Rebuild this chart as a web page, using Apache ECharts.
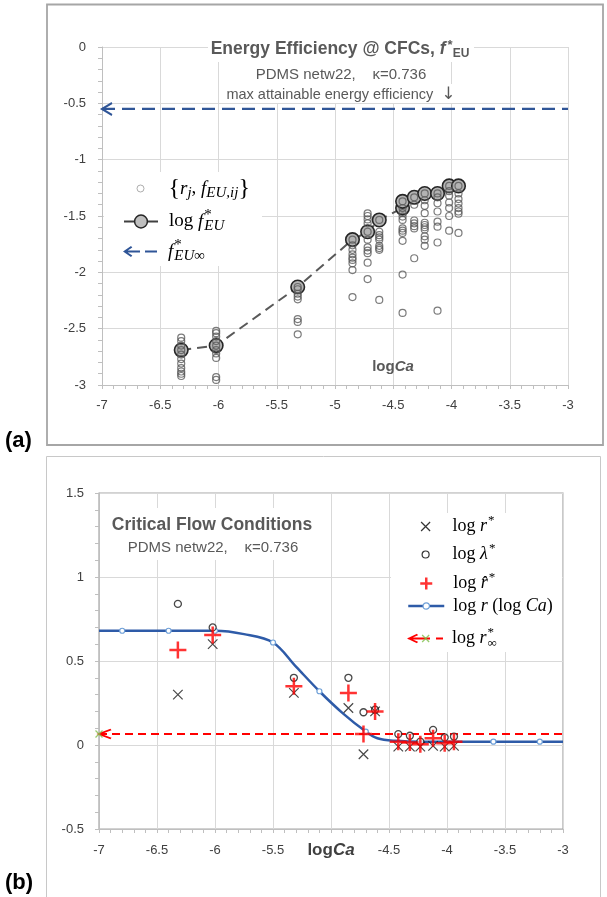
<!DOCTYPE html>
<html>
<head>
<meta charset="utf-8">
<script src="https://cdn.jsdelivr.net/npm/echarts@6.0.0/dist/echarts.min.js"></script>
<style>
html,body{margin:0;padding:0;background:#ffffff;}
#chart{width:607px;height:897px;}
</style>
</head>
<body>
<div id="chart"></div>
<script>
// ================= data =================
const logCa = [-6.32, -6.02, -5.32, -4.85, -4.72, -4.62, -4.42, -4.32, -4.23, -4.12, -4.02, -3.94];

// (a) individual {r_j, f_EU,ij} values, one list per logCa
const fEU_1 = [-2.58, -2.61, -2.65, -2.69, -2.73, -2.77, -2.81, -2.85, -2.88, -2.90, -2.92];
const fEU_2 = [-2.52, -2.54, -2.57, -2.61, -2.65, -2.69, -2.72, -2.76, -2.93, -2.955];
const fEU_3 = [-2.13, -2.15, -2.19, -2.215, -2.24, -2.415, -2.44, -2.55];
const fEU_4 = [-1.71, -1.76, -1.80, -1.84, -1.87, -1.89, -1.92, -1.98, -2.22];
const fEU_5 = [-1.476, -1.50, -1.53, -1.565, -1.64, -1.71, -1.778, -1.807, -1.83, -1.914, -2.06];
const fEU_6 = [-1.535, -1.64, -1.67, -1.69, -1.71, -1.765, -1.785, -1.80, -2.245];
const fEU_7 = [-1.37, -1.43, -1.475, -1.505, -1.535, -1.61, -1.63, -1.65, -1.72, -2.02, -2.36];
const fEU_8 = [-1.334, -1.40, -1.54, -1.565, -1.59, -1.61, -1.875];
const fEU_9 = [-1.30, -1.36, -1.41, -1.475, -1.56, -1.58, -1.60, -1.62, -1.68, -1.71, -1.765];
const fEU_10 = [-1.30, -1.334, -1.387, -1.46, -1.55, -1.595, -1.735, -2.34];
const fEU_11 = [-1.233, -1.28, -1.32, -1.38, -1.43, -1.50, -1.63];
const fEU_12 = [-1.233, -1.30, -1.35, -1.39, -1.43, -1.46, -1.48, -1.65];
const fEUcols = [fEU_1, fEU_2, fEU_3, fEU_4, fEU_5, fEU_6, fEU_7, fEU_8, fEU_9, fEU_10, fEU_11, fEU_12];

// (a) log f*_EU (large circles, dashed connector)
const logFEUx = [-6.32, -6.02, -5.32, -4.85, -4.72, -4.62, -4.42, -4.42, -4.32, -4.23, -4.12, -4.02, -3.94];
const logFEUy = [-2.69, -2.65, -2.13, -1.71, -1.64, -1.535, -1.43, -1.37, -1.334, -1.30, -1.30, -1.233, -1.233];
const fEUinf = -0.55;

// (b) critical flow conditions
const logRstar   = [0.30, 0.60, 0.31, 0.22, -0.055, 0.20, -0.01, -0.01, -0.01, -0.005, -0.01, -0.005];
const logLamStar = [0.84, 0.70, 0.40, 0.40, 0.195, 0.21, 0.065, 0.055, 0.02, 0.09, 0.045, 0.05];
const logRhat    = [0.565, 0.655, 0.35, 0.31, 0.065, 0.20, 0.02, 0.015, 0.005, 0.04, 0.01, 0.02];

// (b) log r(log Ca) curve and which points carry a marker
const curveX = [-7.0, -6.8, -6.4, -6.0, -5.75, -5.5, -5.3, -5.1, -4.9, -4.7, -4.6, -4.45, -4.2, -3.6, -3.2, -3.0];
const curveY = [0.68, 0.68, 0.68, 0.68, 0.66, 0.61, 0.465, 0.32, 0.19, 0.08, 0.04, 0.025, 0.02, 0.02, 0.02, 0.02];
const curveMark = [0, 1, 1, 1, 0, 1, 0, 1, 0, 1, 0, 0, 0, 1, 1, 0];
const logRinf = 0.065;

// axes
const xRange = [-7, -3];
const yRangeA = [-3, 0];
const yRangeB = [-0.5, 1.5];
const tickStep = 0.5;
const hiddenXLabelB = -5;

// ================= styling helpers =================
const SANS = 'Liberation Sans';
const SERIF = 'Liberation Serif';
const XPATH = 'path://M0,0L10,10M10,0L0,10';
const PLUS = 'path://M5,0L5,10M0,5L10,5';
const CHEV = 'path://M10,0L0,5L10,10';
const CLEAR = 'rgba(0,0,0,0)';
// legend icons spanning the whole icon box (symbol centred in it)
const LG_CIRCLE_A = 'path://M0,3.5M34,3.5M20.5,3.5A3.5,3.5,0,1,1,13.5,3.5A3.5,3.5,0,1,1,20.5,3.5Z';
const LG_CROSS = 'path://M0,4.5M36,4.5M13.5,0L22.5,9M22.5,0L13.5,9';
const LG_CIRCLE_B = 'path://M0,3.5M36,3.5M21.5,3.5A3.5,3.5,0,1,1,14.5,3.5A3.5,3.5,0,1,1,21.5,3.5Z';
const LG_PLUS = 'path://M0,6M36,6M18,0L18,12M12,6L24,6';
const LG_GREENX = 'path://M0,3.5M36,3.5M14.5,0L21.5,7M21.5,0L14.5,7';
const LG_ARROW_A = 'path://M0,6L8,0.5L9.3,1.9L3.2,6L9.3,10.1L8,11.5ZM1.5,5H17V7H1.5ZM22,5H34V7H22Z';
const LG_ARROW_B = 'path://M0,5L10,0.3L11,1.8L3.6,5L11,8.2L10,9.7ZM1.5,4.1H23V5.9H1.5ZM29,4.1H36V5.9H29Z';

function mathRich(size, sub, lh, gap, color) {
  return {
    gap: {fontFamily: SERIF, fontSize: size, lineHeight: lh, width: gap, color: color},
    n: {fontFamily: SERIF, fontSize: size, lineHeight: lh, color: color},
    i: {fontFamily: SERIF, fontSize: size, lineHeight: lh, fontStyle: 'italic', color: color},
    sup0: {fontFamily: SERIF, fontSize: sub, lineHeight: lh, padding: [0, 0, 12, 1], width: 0, color: color},
    sup: {fontFamily: SERIF, fontSize: sub, lineHeight: lh, padding: [0, 0, 12, 1], color: color},
    sub: {fontFamily: SERIF, fontSize: sub, lineHeight: lh, fontStyle: 'italic', padding: [10, 0, 0, 0], color: color},
    subn: {fontFamily: SERIF, fontSize: sub, lineHeight: lh, padding: [10, 0, 0, 0], color: color}
  };
}
const richA = mathRich(19, 15, 24, 6, '#000');
const richB = mathRich(18, 13, 22, 4, '#000');
const richBclear = mathRich(18, 13, 22, 4, CLEAR);

function axisCommon() {
  return {
    type: 'value', min: xRange[0], max: xRange[1], interval: tickStep,
    axisLine: {show: true, onZero: false, lineStyle: {color: '#bfbfbf', width: 1}},
    axisTick: {show: true, length: 4, lineStyle: {color: '#bfbfbf'}},
    minorTick: {show: true, splitNumber: 5, length: 4, lineStyle: {color: '#bfbfbf'}},
    splitLine: {show: true, lineStyle: {color: '#d9d9d9', width: 1}},
    minorSplitLine: {show: false},
    axisLabel: {fontFamily: SANS, fontSize: 13, color: '#404040'}
  };
}

// ================= build series data =================
const rjfData = [];
fEUcols.forEach((col, i) => col.forEach(v => rjfData.push([logCa[i], v])));
const bigData = logFEUx.map((x, i) => [x, logFEUy[i]]);
const fInfData = [
  {value: [xRange[0], fEUinf], symbol: CHEV, symbolSize: [10, 12], symbolOffset: [5, 0],
   itemStyle: {color: CLEAR, borderColor: '#2f5597', borderWidth: 2}},
  {value: [xRange[1], fEUinf], symbol: 'none'}
];
const rInfData = [
  {value: [xRange[0], logRinf], symbol: CHEV, symbolSize: [12, 9], symbolOffset: [6, 0],
   itemStyle: {color: CLEAR, borderColor: '#ff0000', borderWidth: 2}},
  {value: [xRange[1], logRinf], symbol: 'none'}
];
const curveData = curveX.map((x, i) => ({value: [x, curveY[i]], symbol: curveMark[i] ? 'circle' : 'none'}));
const rStarData = logCa.map((x, i) => [x, logRstar[i]]);
const lamData = logCa.map((x, i) => [x, logLamStar[i]]);
const rHatData = logCa.map((x, i) => [x, logRhat[i]]);

// ================= option =================
const xa = axisCommon();
const xb = axisCommon();
const GRAY = '#595959';
function lg(extra) {
  return Object.assign({padding: 0, selectedMode: false, orient: 'horizontal'}, extra);
}
const option = {
  animation: false,
  backgroundColor: '#ffffff',
  textStyle: {fontFamily: SANS},
  grid: [
    {left: 102, top: 47, width: 466, height: 338, outerBoundsMode: 'none', containLabel: false},
    {left: 99, top: 493, width: 464, height: 336, outerBoundsMode: 'none', containLabel: false,
     show: true, borderColor: '#a6a6a6', borderWidth: 1.2, backgroundColor: CLEAR}
  ],
  xAxis: [
    Object.assign(xa, {
      gridIndex: 0,
      axisLabel: Object.assign(xa.axisLabel, {margin: 14}),
      name: '{a|log}{b|Ca}', nameLocation: 'middle', nameGap: -26, nameMoveOverlap: false,
      nameTextStyle: {padding: [0, 0, 0, 116], rich: {
        a: {fontFamily: SANS, fontWeight: 'bold', fontSize: 15, color: GRAY},
        b: {fontFamily: SANS, fontWeight: 'bold', fontStyle: 'italic', fontSize: 15, color: GRAY}
      }}
    }),
    Object.assign(xb, {
      gridIndex: 1,
      axisLabel: Object.assign(xb.axisLabel, {margin: 15, formatter: v => (v === hiddenXLabelB ? '' : String(v))}),
      name: '{a|log}{b|Ca}', nameLocation: 'middle', nameGap: 13, nameMoveOverlap: false,
      nameTextStyle: {rich: {
        a: {fontFamily: SANS, fontWeight: 'bold', fontSize: 17, color: '#404040'},
        b: {fontFamily: SANS, fontWeight: 'bold', fontStyle: 'italic', fontSize: 17, color: '#404040'}
      }}
    })
  ],
  yAxis: [
    Object.assign(axisCommon(), {gridIndex: 0, min: yRangeA[0], max: yRangeA[1],
      axisLabel: {fontFamily: SANS, fontSize: 13, color: '#404040', margin: 16}}),
    Object.assign(axisCommon(), {gridIndex: 1, min: yRangeB[0], max: yRangeB[1],
      axisLabel: {fontFamily: SANS, fontSize: 13, color: '#404040', margin: 15}})
  ],
  title: [
    {text: '{t|Energy Efficiency @ CFCs, }{ti|f}{ts|*}{tsub|EU}', left: 340, top: 49,
     textAlign: 'center', textVerticalAlign: 'middle', padding: 0,
     textStyle: {rich: {
       t: {fontFamily: SANS, fontWeight: 'bold', fontSize: 17.5, lineHeight: 22, color: GRAY},
       ti: {fontFamily: SANS, fontWeight: 'bold', fontStyle: 'italic', fontSize: 17.5, lineHeight: 22, color: GRAY},
       ts: {fontFamily: SANS, fontWeight: 'bold', fontSize: 13, lineHeight: 22, padding: [0, 0, 8, 2], color: GRAY},
       tsub: {fontFamily: SANS, fontWeight: 'bold', fontSize: 12, lineHeight: 22, padding: [9, 0, 0, 0], color: GRAY}
     }}},
    {text: 'PDMS netw22,    κ=0.736', left: 341, top: 75, textAlign: 'center', textVerticalAlign: 'middle', padding: 0,
     textStyle: {fontFamily: SANS, fontWeight: 'normal', fontSize: 15, color: GRAY}},
    {text: '{m|max attainable energy efficiency  }{ar|↓}', left: 341, top: 95, textAlign: 'center', textVerticalAlign: 'middle', padding: 0,
     textStyle: {fontWeight: 'normal', rich: {
       m: {fontFamily: SANS, fontWeight: 'normal', fontSize: 14.5, lineHeight: 20, color: GRAY},
       ar: {fontFamily: 'DejaVu Sans', fontWeight: 'normal', fontSize: 17, lineHeight: 20, color: GRAY}
     }}},
    {text: 'Critical Flow Conditions', left: 212, top: 525, textAlign: 'center', textVerticalAlign: 'middle', padding: 0,
     textStyle: {fontFamily: SANS, fontWeight: 'bold', fontSize: 17.5, color: GRAY}},
    {text: 'PDMS netw22,    κ=0.736', left: 213, top: 548, textAlign: 'center', textVerticalAlign: 'middle', padding: 0,
     textStyle: {fontFamily: SANS, fontWeight: 'normal', fontSize: 15, color: GRAY}},
    {text: '(a)', left: 5, top: 441, textAlign: 'left', textVerticalAlign: 'middle', padding: 0,
     textStyle: {fontFamily: SANS, fontWeight: 'bold', fontSize: 22, color: '#000'}},
    {text: '(b)', left: 5, top: 883, textAlign: 'left', textVerticalAlign: 'middle', padding: 0,
     textStyle: {fontFamily: SANS, fontWeight: 'bold', fontSize: 22, color: '#000'}}
  ],
  legend: [
    lg({data: [{name: 'rjf', icon: LG_CIRCLE_A}], left: 123, top: 176, itemWidth: 34, itemHeight: 7,
     itemStyle: {color: '#ffffff', borderColor: '#9a9a9a', borderWidth: 1},
     textStyle: {fontFamily: SERIF, fontSize: 24, lineHeight: 24, color: '#000', rich: richA},
     formatter: () => '{gap| }{{i|r}{sub|j}{n|, }{i|f}{sub|EU,ij}}'}),
    lg({data: ['logfEU'], left: 123, top: 208, itemWidth: 34, itemHeight: 16,
     itemStyle: {color: '#bfbfbf', borderColor: '#262626', borderWidth: 1.5},
     lineStyle: {color: '#404040', width: 2, type: 'solid'},
     textStyle: {rich: richA}, formatter: () => '{gap| }{n|log }{i|f}{sup0|*}{sub|EU}'}),
    lg({data: [{name: 'fInf', icon: LG_ARROW_A}], left: 123, top: 238, itemWidth: 34, itemHeight: 12,
     itemStyle: {color: '#2f5597', borderWidth: 0},
     textStyle: {rich: richA}, formatter: () => '{gap| }{i|f}{sup0|*}{sub|EU}{subn|∞}'}),

    lg({data: [{name: 'rStar', icon: LG_CROSS}], left: 407, top: 514, itemWidth: 36, itemHeight: 9,
     itemStyle: {color: CLEAR, borderColor: '#000', borderWidth: 1.2},
     textStyle: {rich: richB}, formatter: () => '{gap| }{n|log }{i|r}{sup|*}'}),
    lg({data: [{name: 'lamStar', icon: LG_CIRCLE_B}], left: 407, top: 542, itemWidth: 36, itemHeight: 7,
     itemStyle: {color: '#fff', borderColor: '#000', borderWidth: 1.2},
     textStyle: {rich: richB}, formatter: () => '{gap| }{n|log }{i|λ}{sup|*}'}),
    lg({data: [{name: 'rHat', icon: LG_PLUS}], left: 407, top: 571, itemWidth: 36, itemHeight: 12,
     itemStyle: {color: CLEAR, borderColor: '#ff0000', borderWidth: 2.5},
     textStyle: {rich: richB}, formatter: () => '{gap| }{n|log }{i|r̂}{sup|*}'}),
    lg({data: ['logr'], left: 407, top: 597, itemWidth: 36, itemHeight: 8,
     itemStyle: {color: '#fff', borderColor: '#6fa0d8', borderWidth: 1.2},
     lineStyle: {color: '#2e5ba8', width: 2.5, type: 'solid'},
     textStyle: {rich: richB}, formatter: () => '{gap| }{n|log }{i|r}{n| (log }{i|Ca}{n|)}'}),
    lg({data: [{name: 'rInf', icon: LG_ARROW_B}], left: 407, top: 626, itemWidth: 36, itemHeight: 10,
     itemStyle: {color: '#ff0000', borderWidth: 0},
     textStyle: {rich: richB}, formatter: () => '{gap| }{n|log }{i|r}{sup0|*}{subn|∞}'}),
    lg({data: [{name: 'rInfPt', icon: LG_GREENX}], left: 407, top: 626, itemWidth: 36, itemHeight: 7,
     itemStyle: {color: CLEAR, borderColor: '#7fbf4a', borderWidth: 1.3},
     textStyle: {rich: richBclear}, formatter: () => '{gap| }{n|log }{i|r}{sup0|*}{subn|∞}'})
  ],
  graphic: [
    {type: 'rect', silent: true, z: 0, shape: {x: 47, y: 4.5, width: 556, height: 440.5},
     style: {fill: 'none', stroke: '#a6a6a6', lineWidth: 1.8}},
    {type: 'rect', silent: true, z: 0, shape: {x: 46.5, y: 456.5, width: 554, height: 446},
     style: {fill: 'none', stroke: '#c8c8c8', lineWidth: 1}},
    // white boxes behind text blocks
    {type: 'rect', silent: true, z: 1, shape: {x: 208, y: 39, width: 266, height: 23}, style: {fill: '#fff'}},
    {type: 'rect', silent: true, z: 1, shape: {x: 252, y: 62, width: 180, height: 22}, style: {fill: '#fff'}},
    {type: 'rect', silent: true, z: 1, shape: {x: 220, y: 84, width: 244, height: 19}, style: {fill: '#fff'}},
    {type: 'rect', silent: true, z: 1, shape: {x: 104, y: 172, width: 158, height: 94}, style: {fill: '#fff'}},
    {type: 'rect', silent: true, z: 1, shape: {x: 110, y: 508, width: 206, height: 52}, style: {fill: '#fff'}},
    {type: 'rect', silent: true, z: 1, shape: {x: 391, y: 513, width: 171, height: 139}, style: {fill: '#fff'}}
  ],
  series: [
    // ---- panel (a)
    {name: 'logfEU', type: 'line', xAxisIndex: 0, yAxisIndex: 0, z: 2, data: bigData,
     symbol: 'circle', symbolSize: 13.5,
     itemStyle: {color: '#b3b3b3', borderColor: '#262626', borderWidth: 1.6},
     lineStyle: {color: '#595959', width: 2, type: [10, 6]}},
    {name: 'rjf', type: 'scatter', xAxisIndex: 0, yAxisIndex: 0, z: 3, data: rjfData,
     symbol: 'circle', symbolSize: 7,
     itemStyle: {color: CLEAR, borderColor: '#5a5a5a', borderWidth: 1.2}},
    {name: 'fInf', type: 'line', xAxisIndex: 0, yAxisIndex: 0, z: 2, data: fInfData, symbol: 'none',
     itemStyle: {color: '#2f5597'},
     lineStyle: {color: '#2f5597', width: 2.2, type: [13, 7]}},
    // ---- panel (b)
    {name: 'logr', type: 'line', xAxisIndex: 1, yAxisIndex: 1, z: 2, data: curveData,
     smooth: 0.35, symbol: 'circle', symbolSize: 5,
     itemStyle: {color: '#ffffff', borderColor: '#6fa0d8', borderWidth: 1.2},
     lineStyle: {color: '#2e5ba8', width: 2.5}},
    {name: 'rInf', type: 'line', xAxisIndex: 1, yAxisIndex: 1, z: 2, data: rInfData, symbol: 'none',
     itemStyle: {color: '#ff0000'},
     lineStyle: {color: '#ff0000', width: 2, type: [8, 5]}},
    {name: 'rInfPt', type: 'scatter', xAxisIndex: 1, yAxisIndex: 1, z: 4, data: [[xRange[0], logRinf]],
     symbol: XPATH, symbolSize: 7,
     itemStyle: {color: CLEAR, borderColor: '#7fbf4a', borderWidth: 1.3}},
    {name: 'lamStar', type: 'scatter', xAxisIndex: 1, yAxisIndex: 1, z: 3, data: lamData,
     symbol: 'circle', symbolSize: 7,
     itemStyle: {color: '#ffffff', borderColor: '#1a1a1a', borderWidth: 1.3}},
    {name: 'rStar', type: 'scatter', xAxisIndex: 1, yAxisIndex: 1, z: 3, data: rStarData,
     symbol: XPATH, symbolSize: 9.5,
     itemStyle: {color: CLEAR, borderColor: '#1a1a1a', borderWidth: 1.2}},
    {name: 'rHat', type: 'scatter', xAxisIndex: 1, yAxisIndex: 1, z: 4, data: rHatData,
     symbol: PLUS, symbolSize: 17,
     itemStyle: {color: CLEAR, borderColor: '#ff0000', borderWidth: 2.5}}
  ]
};
const chart = echarts.init(document.getElementById('chart'), null, {renderer: 'canvas', width: 607, height: 897});
chart.setOption(option);
</script>
</body>
</html>
